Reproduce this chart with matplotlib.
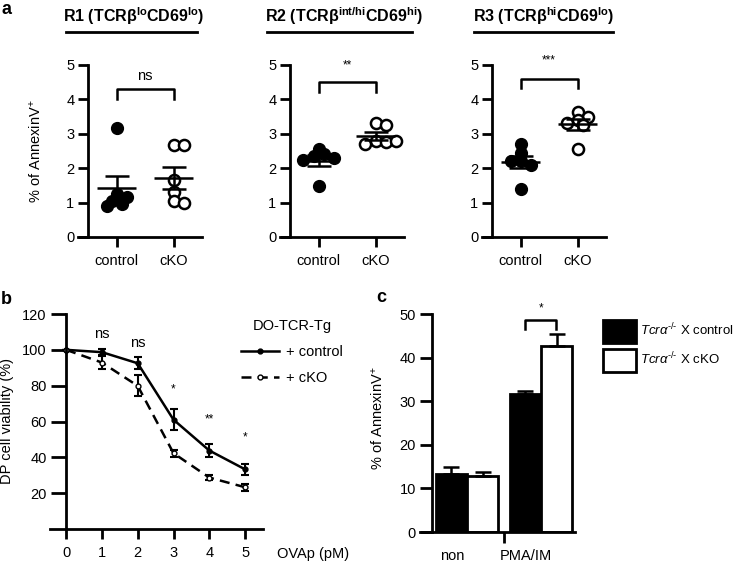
import numpy as np
import matplotlib
matplotlib.use("Agg")
import matplotlib.pyplot as plt
from matplotlib.lines import Line2D

plt.rcParams["font.family"] = ["Liberation Sans", "DejaVu Sans"]
plt.rcParams["mathtext.fontset"] = "custom"
plt.rcParams["mathtext.rm"] = "Liberation Sans"
plt.rcParams["mathtext.it"] = "Liberation Sans:italic"
plt.rcParams["mathtext.bf"] = "Liberation Sans:bold"
plt.rcParams["font.size"] = 10.5

# ---- panel a: % AnnexinV+ per mouse, three thymocyte subsets
a_groups = ["control", "cKO"]
a_titles = [r"R1 (TCRβ$^{\mathbf{lo}}$CD69$^{\mathbf{lo}}$)",
            r"R2 (TCRβ$^{\mathbf{int/hi}}$CD69$^{\mathbf{hi}}$)",
            r"R3 (TCRβ$^{\mathbf{hi}}$CD69$^{\mathbf{lo}}$)"]
a_sig = ["ns", "**", "***"]
r1_control = [3.18, 1.25, 1.15, 1.05, 0.95, 0.90]
r1_cko = [2.66, 2.66, 1.65, 1.30, 1.05, 1.00]
r2_control = [1.49, 2.55, 2.40, 2.35, 2.30, 2.25]
r2_cko = [3.30, 3.25, 2.80, 2.75, 2.70, 2.80]
r3_control = [1.40, 2.70, 2.45, 2.20, 2.10, 2.20]
r3_cko = [2.56, 3.64, 3.50, 3.40, 3.30, 3.25]

# ---- panel b: DP viability vs OVA peptide
ovap = [0, 1, 2, 3, 4, 5]
viab_control = [100, 98.7, 92.5, 61.0, 43.8, 33.3]
viab_control_err = [0, 1.5, 3.3, 6.0, 3.7, 3.0]
viab_cko = [100, 92.9, 79.9, 42.3, 28.7, 23.3]
viab_cko_err = [0, 3.5, 5.8, 2.0, 1.5, 2.0]
b_sig = ["", "ns", "ns", "*", "**", "*"]
b_sig_y = [0, 109, 104, 78, 61, 51]

# ---- panel c: AnnexinV+ after stimulation
c_groups = ["non", "PMA/IM"]
c_control = [13.4, 31.7]
c_control_err = [1.5, 0.6]
c_cko = [12.8, 42.7]
c_cko_err = [0.9, 2.7]

W, H = 748, 562
LW = 2.0


def box(l, t, r, b):
    return [l / W, 1 - b / H, (r - l) / W, (b - t) / H]


def style(ax, spine_x, ylen, xlen):
    for s in ["top", "right"]:
        ax.spines[s].set_visible(False)
    for s in ["left", "bottom"]:
        ax.spines[s].set_linewidth(LW)
    ax.spines["left"].set_position(("data", spine_x))
    ax.tick_params(axis="y", length=ylen, width=LW, pad=3)
    ax.tick_params(axis="x", length=xlen, width=LW, pad=5)


def swarm(vals, center, sx=56.0, sy=34.4, step=5.0, mind=7.0):
    # greedy placement so overlapping points spread sideways a little
    placed = []
    xs = []
    for v in vals:
        for k in [0, 1, -1, 2, -2, 3, -3, 4, -4]:
            off = k * step
            ok = all(np.hypot(off - px, (v - py) * sy) >= mind for px, py in placed)
            if ok:
                break
        placed.append((off, v))
        xs.append(center + off / sx)
    return xs


fig = plt.figure(figsize=(W / 100, H / 100), dpi=100)

a_data = [(r1_control, r1_cko), (r2_control, r2_cko), (r3_control, r3_cko)]
a_lefts = [78, 280, 482]
a_line = [(66, 197), (267, 412), (474, 613)]
a_title_x = [134, 344, 544]
a_bracket = [(4.0, 4.29, 4.68), (4.22, 4.5, 4.98), (4.32, 4.59, 5.12)]
for i, (ctrl, cko) in enumerate(a_data):
    ax = fig.add_axes(box(a_lefts[i], 65, a_lefts[i] + 124, 237))
    ax.set_xlim(-0.68, 1.5)
    ax.set_ylim(0, 5)
    style(ax, -0.5, 7, 7)
    for j, vals in enumerate([ctrl, cko]):
        xs = swarm(vals, j)
        if j == 0:
            ax.plot(xs, vals, "o", ms=8.5, color="black", zorder=2)
        else:
            ax.plot(xs, vals, "o", ms=8, mfc="white", mec="black", mew=1.8, zorder=2)
        m = np.mean(vals)
        sem = np.std(vals, ddof=1) / np.sqrt(len(vals))
        ax.hlines(m, j - 0.34, j + 0.34, color="black", lw=1.8, zorder=3)
        ax.vlines(j, m - sem, m + sem, color="black", lw=1.8, zorder=3)
        ax.hlines([m - sem, m + sem], j - 0.21, j + 0.21, color="black", lw=1.8, zorder=3)
    lo, hi, ty = a_bracket[i]
    ax.plot([0, 0, 1, 1], [lo, hi, hi, lo], color="black", lw=1.8, clip_on=False)
    ax.text(0.5, ty, a_sig[i], ha="center", va="center",
            fontsize=10.5 if a_sig[i] == "ns" else 8.5)
    ax.set_xticks([0, 1])
    ax.set_xticklabels(a_groups)
    ax.set_yticks(range(6))
    if i == 0:
        ax.set_ylabel("% of AnnexinV$^{+}$")
        ax.yaxis.set_label_coords(-0.28, 0.5)
    fig.text(a_title_x[i] / W, 1 - 16 / H, a_titles[i], ha="center", va="center",
             fontsize=11.5, fontweight="bold")
    x0, x1 = a_line[i]
    fig.add_artist(Line2D([x0 / W, x1 / W], [1 - 32 / H] * 2, color="black", lw=2))

# panel b
ax = fig.add_axes(box(50, 314, 263, 529))
ax.set_xlim(-0.45, 5.5)
ax.set_ylim(0, 120)
style(ax, 0, 11, 7)
ax.errorbar(ovap, viab_control, yerr=viab_control_err, fmt="-o", ms=3.5, color="black",
            lw=1.8, elinewidth=1.5, capsize=3, capthick=1.5)
ax.errorbar(ovap, viab_cko, yerr=viab_cko_err, fmt="--o", ms=3.5, color="black", mfc="white",
            lw=1.8, elinewidth=1.5, capsize=3, capthick=1.5, dashes=(4, 2.5))
for x, s, y in zip(ovap, b_sig, b_sig_y):
    if s:
        ax.text(x, y, s, ha="center", va="center",
                fontsize=10.5 if s == "ns" else 8.5)
ax.set_xticks(ovap)
ax.set_yticks([20, 40, 60, 80, 100, 120])
ax.set_ylabel("DP cell viability (%)")
ax.yaxis.set_label_coords(-0.17, 0.5)
b_handles = [Line2D([], [], color="black", lw=1.8, marker="o", ms=3.5),
             Line2D([], [], color="black", lw=1.8, marker="o", ms=3.5, mfc="white",
                    ls="--", dashes=(4, 2.5))]
ax.legend(b_handles, ["+ control", "+ cKO"], title="DO-TCR-Tg", loc="upper left",
          frameon=False, bbox_to_anchor=(234 / W, 1 - 312 / H),
          bbox_transform=fig.transFigure, handlelength=2.6, handletextpad=0.5,
          labelspacing=0.8, borderpad=0, fontsize=10.5, title_fontsize=10.5)
fig.text(277 / W, 1 - 554 / H, "OVAp (pM)", va="center", fontsize=10.5)

# panel c
ax = fig.add_axes(box(420, 314, 575, 532))
ax.set_xlim(-0.635, 1.46)
ax.set_ylim(0, 50)
style(ax, -0.473, 8.5, 8)
xc = np.arange(len(c_groups))
ax.bar(xc - 0.21, c_control, width=0.42, color="black", edgecolor="black", lw=LW,
       label=r"$\mathit{Tcr\alpha}^{\text{-/-}}$ X control")
ax.bar(xc + 0.21, c_cko, width=0.42, color="white", edgecolor="black", lw=LW,
       label=r"$\mathit{Tcr\alpha}^{\text{-/-}}$ X cKO")
ax.errorbar(xc - 0.21, c_control, yerr=[np.zeros(2), c_control_err], fmt="none",
            ecolor="black", elinewidth=1.8, capsize=6, capthick=1.8)
ax.errorbar(xc + 0.21, c_cko, yerr=[np.zeros(2), c_cko_err], fmt="none",
            ecolor="black", elinewidth=1.8, capsize=6, capthick=1.8)
ax.plot([0.79, 0.79, 1.2, 1.2], [46.5, 48.7, 48.7, 46.5], color="black", lw=1.8, clip_on=False)
ax.text(1.0, 51.3, "*", ha="center", va="center", fontsize=8.5)
ax.set_yticks(range(0, 51, 10))
ax.set_xticks([0.5])
ax.set_xticklabels([""])
ax.set_xticks(xc - 0.2, labels=c_groups, minor=True)
ax.tick_params(axis="x", which="minor", length=0, pad=12)
ax.set_ylabel("% of AnnexinV$^{+}$")
ax.yaxis.set_label_coords(-0.22, 0.52)
ax.legend(loc="upper left", frameon=False, bbox_to_anchor=(603 / W, 1 - 320 / H),
          bbox_transform=fig.transFigure, handlelength=2.5, handleheight=2.25,
          handletextpad=0.3, labelspacing=0.5, borderpad=0, borderaxespad=0,
          fontsize=9.5)

fig.text(1 / W, 1 - 9 / H, "a", fontsize=13, fontweight="bold", va="center")
fig.text(1 / W, 1 - 299 / H, "b", fontsize=13, fontweight="bold", va="center")
fig.text(376 / W, 1 - 298 / H, "c", fontsize=13, fontweight="bold", va="center")

fig.savefig("out.png", dpi=100)
